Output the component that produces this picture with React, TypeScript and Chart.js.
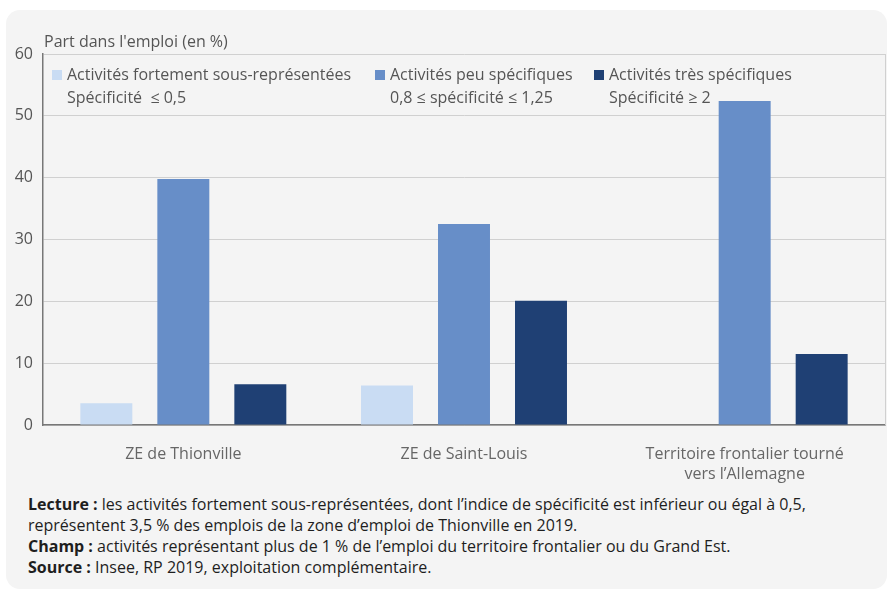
import React, { useEffect, useRef } from "react";
import { Chart, registerables } from "chart.js";

Chart.register(...registerables);

const categories: (string | string[])[] = [
  "ZE de Thionville",
  "ZE de Saint-Louis",
  ["Territoire frontalier tourné", "vers l\u2019Allemagne"],
];
const sousRepresentees: (number | null)[] = [3.5, 6.4, null];
const peuSpecifiques: number[] = [39.8, 32.5, 52.4];
const tresSpecifiques: number[] = [6.6, 20.1, 11.5];
const seriesNames: string[] = [
  "Activités fortement sous-représentées",
  "Activités peu spécifiques",
  "Activités très spécifiques",
];
const seriesSub: string[] = [
  "Spécificité  \u2264 0,5",
  "0,8 \u2264 spécificité \u2264 1,25",
  "Spécificité \u2265 2",
];
const colors: string[] = ["#c9dcf3", "#678ec8", "#1f4074"];
const yTitle = "Part dans l'emploi (en %)";

const FONT = "'Open Sans', 'Noto Sans', sans-serif";

const overlayPlugin = {
  id: "overlay",
  afterDraw(chart: any) {
    const { ctx, chartArea } = chart;
    ctx.save();
    // right border
    ctx.strokeStyle = "#d0d0d0";
    ctx.lineWidth = 1;
    ctx.beginPath();
    ctx.moveTo(chartArea.right + 0.5, chartArea.top);
    ctx.lineTo(chartArea.right + 0.5, chartArea.bottom);
    ctx.stroke();
    // y title
    ctx.font = `16px ${FONT}`;
    ctx.fillStyle = "#555";
    ctx.textBaseline = "middle";
    ctx.textAlign = "left";
    ctx.fillText(yTitle, chartArea.left + 1, chartArea.top - 12);
    // legend
    const xs = [46, 369, 588];
    for (let i = 0; i < seriesNames.length; i++) {
      ctx.fillStyle = colors[i];
      ctx.fillRect(xs[i], 60, 10, 10);
      ctx.fillStyle = "#555";
      ctx.fillText(seriesNames[i], xs[i] + 15, 65);
      ctx.fillText(seriesSub[i], xs[i] + 15, 88);
    }
    ctx.restore();
  },
};

export default function App() {
  const ref = useRef<HTMLCanvasElement>(null);
  useEffect(() => {
    document.body.style.margin = "0";
    const chart = new Chart(ref.current!, {
      type: "bar",
      data: {
        labels: categories as any,
        datasets: [
          { label: seriesNames[0], data: sousRepresentees, backgroundColor: colors[0] },
          { label: seriesNames[1], data: peuSpecifiques, backgroundColor: colors[1] },
          { label: seriesNames[2], data: tresSpecifiques, backgroundColor: colors[2] },
        ],
      },
      options: {
        responsive: false,
        animation: false,
        maintainAspectRatio: false,
        layout: { padding: { left: 0, right: 2, top: 44, bottom: 0 } },
        datasets: { bar: { categoryPercentage: 0.823, barPercentage: 0.675 } } as any,
        plugins: {
          legend: { display: false },
          tooltip: { enabled: false },
        },
        scales: {
          x: {
            grid: { display: false, drawTicks: false },
            border: { display: true, color: "#777", width: 1.5 },
            ticks: { color: "#666", font: { family: FONT, size: 16, lineHeight: 1.22 }, padding: 20 },
            afterFit: (s: any) => { s.height = 65; },
          },
          y: {
            min: 0,
            max: 60,
            ticks: { stepSize: 10, color: "#555", font: { family: FONT, size: 16 }, padding: 10 },
            grid: { color: "#d0d0d0", drawTicks: false },
            border: { display: true, color: "#777", width: 1.5 },
            afterFit: (s: any) => { s.width = 37; },
          },
        },
      },
      plugins: [overlayPlugin],
    });
    return () => chart.destroy();
  }, []);

  return (
    <div
      style={{
        position: "absolute",
        left: 6,
        top: 10,
        width: 881,
        height: 579,
        background: "#f4f4f4",
        borderRadius: 14,
        fontFamily: FONT,
      }}
    >
      <canvas ref={ref} width={881} height={480} style={{ display: "block" }} />
      <div
        style={{
          position: "absolute",
          left: 22,
          top: 484,
          fontSize: 16,
          lineHeight: "21px",
          color: "#1e1e1e",
        }}
      >
        <div><b>Lecture :</b> les activités fortement sous-représentées, dont l’indice de spécificité est inférieur ou égal à 0,5,</div>
        <div>représentent 3,5 % des emplois de la zone d’emploi de Thionville en 2019.</div>
        <div><b>Champ :</b> activités représentant plus de 1 % de l’emploi du territoire frontalier ou du Grand Est.</div>
        <div><b>Source :</b> Insee, RP 2019, exploitation complémentaire.</div>
      </div>
    </div>
  );
}
